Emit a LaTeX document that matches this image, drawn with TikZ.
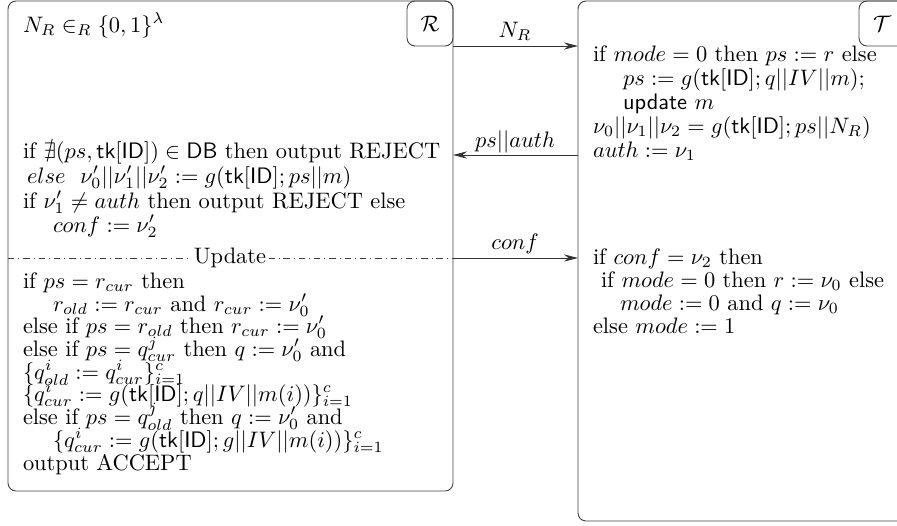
\documentclass[tikz,border=0pt]{standalone}
\usepackage{amsmath,amssymb,graphicx}
\usetikzlibrary{arrows.meta}
% 10pt text, enlarged uniformly
\newcommand{\sbx}[1]{\scalebox{1.12}{#1}}
\begin{document}
\begin{tikzpicture}[x=0.5pt,y=-0.5pt,
  every node/.style={font=\fontsize{10}{12}\selectfont},
  txt/.style={anchor=base west, inner sep=0pt, outer sep=0pt},
  lbl/.style={anchor=base, inner sep=0pt, outer sep=0pt},
  frame/.style={draw=black!75, line width=0.45pt, rounded corners=4pt, inner sep=0pt, outer sep=0pt},
  party/.style={frame, minimum width=23pt, minimum height=22.5pt},
  msg/.style={draw=black!80, line width=0.45pt, -{Stealth[length=7pt,width=3.6pt]}}]
\useasboundingbox (0,0) rectangle (897,525);
\clip (0,0) rectangle (897,525);

% the two parties
\node[frame, anchor=north west, minimum width=222.5pt, minimum height=245pt] (Rbox) at (8,1) {};
\node[frame, anchor=north west, minimum width=163.5pt, minimum height=260pt] (Tbox) at (578,1) {};
\node[party, anchor=north east] (Rlab) at (Rbox.north east) {\sbx{$\mathcal{R}$}};
\node[party, anchor=north east] (Tlab) at (Tbox.north east) {\sbx{$\mathcal{T}$}};

% reader side
\node[txt] (r0) at (23,32) {\sbx{$N_R \in_R \{0,1\}^\lambda$}};
\node[txt] (r1) at (23,158) {\sbx{if $\nexists (ps, \mathsf{tk}[\mathsf{ID}]) \in \mathsf{DB}$ then output REJECT}};
\node[txt] (r2) at (27,183) {\sbx{$else$\ \ $\nu_0'||\nu_1'||\nu_2' := g(\mathsf{tk}[\mathsf{ID}]; ps||m)$}};
\node[txt] (r3) at (23,208) {\sbx{if $\nu_1' \neq auth$ then output REJECT else}};
\node[txt] (r4) at (53,232) {\sbx{$conf := \nu_2'$}};

\coordinate (uR) at (Rbox.east |- 0,258);
\draw[draw=black!75, line width=0.45pt, dash pattern=on 3.2pt off 2pt on 0.45pt off 2pt] (Rbox.west |- uR) -- (uR);
\node[fill=white, inner xsep=1.2pt, inner ysep=2pt] (upd) at (230,258) {\sbx{Update}};

\node[txt] (u1) at (23,288) {\sbx{if $ps = r_{cur}$ then}};
\node[txt] (u2) at (53,311) {\sbx{$r_{old} := r_{cur}$ and $r_{cur} := \nu_0'$}};
\node[txt] (u3) at (23,333) {\sbx{else if $ps = r_{old}$ then $r_{cur} := \nu_0'$}};
\node[txt] (u4) at (23,356) {\sbx{else if $ps = q^j_{cur}$ then $q := \nu_0'$ and}};
\node[txt] (u5) at (23,379) {\sbx{$\{q^i_{old} := q^i_{cur}\}^c_{i=1}$}};
\node[txt] (u6) at (23,401) {\sbx{$\{q^i_{cur} := g(\mathsf{tk}[\mathsf{ID}]; q||IV||m(i))\}^c_{i=1}$}};
\node[txt] (u7) at (23,424) {\sbx{else if $ps = q^j_{old}$ then $q := \nu_0'$ and}};
\node[txt] (u8) at (53,447) {\sbx{$\{q^i_{cur} := g(\mathsf{tk}[\mathsf{ID}]; g||IV||m(i))\}^c_{i=1}$}};
\node[txt] (u9) at (23,470) {\sbx{output ACCEPT}};

% tag side
\node[txt] (t1) at (593,61) {\sbx{if $mode = 0$ then $ps := r$ else}};
\node[txt] (t2) at (623,85) {\sbx{$ps := g(\mathsf{tk}[\mathsf{ID}]; q||IV||m)$;}};
\node[txt] (t3) at (623,109) {\sbx{\textsf{update} $m$}};
\node[txt] (t4) at (593,133) {\sbx{$\nu_0||\nu_1||\nu_2 = g(\mathsf{tk}[\mathsf{ID}]; ps||N_R)$}};
\node[txt] (t5) at (593,157) {\sbx{$auth := \nu_1$}};

\node[txt] (t6) at (593,264) {\sbx{if $conf = \nu_2$ then}};
\node[txt] (t7) at (601,287) {\sbx{if $mode = 0$ then $r := \nu_0$ else}};
\node[txt] (t8) at (620,310) {\sbx{$mode := 0$ and $q := \nu_0$}};
\node[txt] (t9) at (593,333) {\sbx{else $mode := 1$}};

% messages
\draw[msg] (Rlab.south east) -- (Rlab.south east -| Tbox.west);
\node[lbl] (m1) at (515,37) {\sbx{$N_R$}};
\draw[msg] (Tbox.west |- 0,155) -- (Rbox.east |- 0,155);
\node[lbl] (m2) at (515,147) {\sbx{$ps||auth$}};
\draw[msg] (uR) -- (uR -| Tbox.west);
\node[lbl] (m3) at (515,249) {\sbx{$conf$}};
\end{tikzpicture}
\end{document}
